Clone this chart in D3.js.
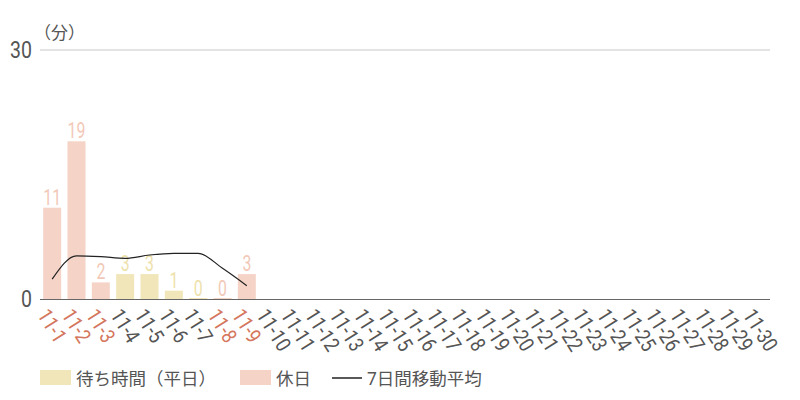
<!DOCTYPE html>
<html><head><meta charset="utf-8">
<script src="https://cdn.jsdelivr.net/npm/d3@7"></script>
<style>
body{margin:0;background:#fff;}
text{font-family:Roboto,"Noto Sans CJK JP",sans-serif;}
</style></head>
<body><svg id="c" width="800" height="400"></svg>
<script>
const days = d3.range(1,31).map(d=>"11-"+d);
const holidays = ["11-1","11-2","11-3","11-8","11-9"];
const waitValues = [11,19,2,3,3,1,0,0,3];
const movingAvg = [2.4,5.2,5.1,4.9,5.3,5.5,5.5,3.7,1.6];
const yTicks = [0,30];
const legendLabels = ["待ち時間（平日）","休日","7日間移動平均"];

const colWeek="#f1e6b9", colHol="#f5d4c7", colWeekTxt="#eee2ac", colHolTxt="#f2c9b8";
const svg=d3.select("#c");
const x=d3.scaleBand().domain(days).range([40,770]).paddingInner(0.26).paddingOuter(0.13);
const y=d3.scaleLinear().domain([0,30]).range([299,50]);
const isHol=d=>holidays.includes(d);

svg.append("g").selectAll("line").data(yTicks.filter(t=>t>0)).join("line")
 .attr("x1",40).attr("x2",770).attr("y1",d=>y(d)).attr("y2",d=>y(d)).attr("stroke","#c8c8c8");
svg.append("g").selectAll("text").data(yTicks).join("text")
 .attr("transform",d=>`translate(32,${y(d)+8}) scale(0.85,1)`)
 .attr("text-anchor","end").attr("font-size",23).attr("fill","#555").text(d=>d);
svg.append("text").attr("x",34).attr("y",39).attr("font-size",17).attr("fill","#555").text("（分）");

const data=waitValues.map((v,i)=>({d:days[i],v}));
svg.append("g").selectAll("rect").data(data).join("rect")
 .attr("x",d=>x(d.d)).attr("width",x.bandwidth())
 .attr("y",d=>Math.min(y(d.v),y(0)-1)).attr("height",d=>Math.max(1,y(0)-y(d.v)))
 .attr("fill",d=>isHol(d.d)?colHol:colWeek);
svg.append("g").selectAll("text").data(data).join("text")
 .attr("transform",d=>`translate(${x(d.d)+x.bandwidth()/2},${y(d.v)-3}) scale(0.72,1)`)
 .attr("text-anchor","middle").attr("font-size",22)
 .attr("fill",d=>isHol(d.d)?colHolTxt:colWeekTxt).text(d=>d.v);

svg.append("line").attr("x1",40).attr("x2",770).attr("y1",y(0)+0.5).attr("y2",y(0)+0.5).attr("stroke","#666").attr("stroke-width",1.2);

const line=d3.line().x((d,i)=>x(days[i])+x.bandwidth()/2).y(d=>y(d)).curve(d3.curveMonotoneX);
svg.append("path").datum(movingAvg).attr("d",line).attr("fill","none").attr("stroke","#222").attr("stroke-width",1.2);

svg.append("g").selectAll("text").data(days).join("text")
 .attr("transform",d=>`translate(${x(d)+x.bandwidth()/2-3},${y(0)+8}) rotate(58) scale(0.85,1)`)
 .attr("font-size",21).attr("dy","0.7em")
 .attr("fill",d=>isHol(d)?"#d4765d":"#555").text(d=>d);

const lg=svg.append("g");
lg.append("rect").attr("x",40).attr("y",370).attr("width",31).attr("height",15).attr("fill",colWeek);
lg.append("text").attr("x",76).attr("y",385).attr("font-size",17.5).attr("fill","#555").text(legendLabels[0]);
lg.append("rect").attr("x",240).attr("y",370).attr("width",31).attr("height",15).attr("fill",colHol);
lg.append("text").attr("x",276).attr("y",385).attr("font-size",17.5).attr("fill","#555").text(legendLabels[1]);
lg.append("line").attr("x1",332).attr("x2",362).attr("y1",378).attr("y2",378).attr("stroke","#222").attr("stroke-width",1.5);
lg.append("text").attr("x",367).attr("y",385).attr("font-size",17.5).attr("fill","#555").text(legendLabels[2]);
</script></body></html>
